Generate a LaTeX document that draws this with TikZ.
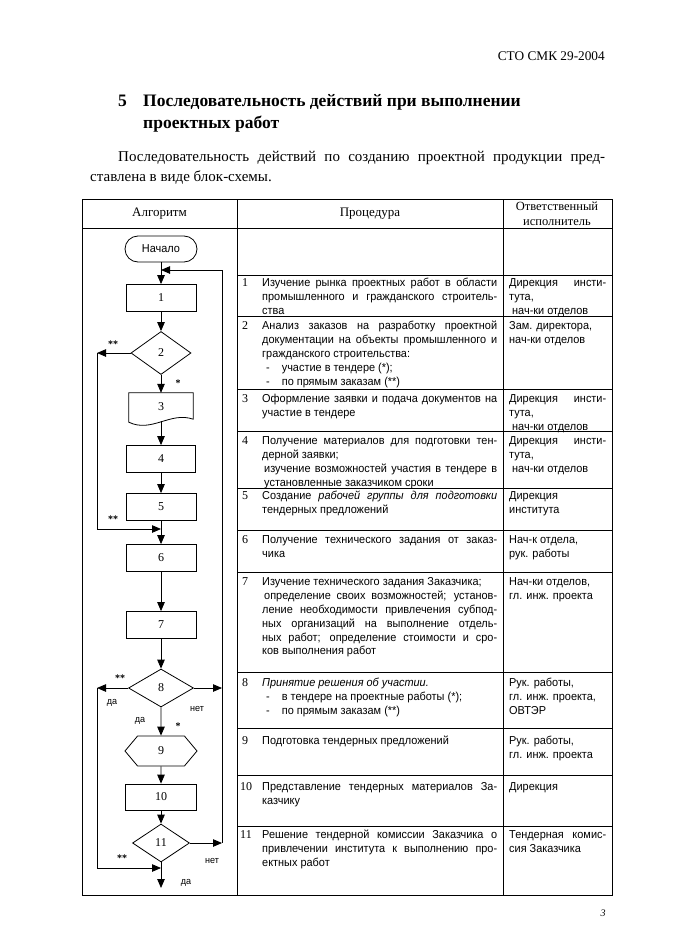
\documentclass[tikz,border=0pt]{standalone}
\usepackage{fontspec}
\setmainfont{Liberation Serif}
\newfontfamily\narrowsf[FakeStretch=0.95]{Liberation Sans}
\usetikzlibrary{arrows.meta,shapes.geometric,shapes.symbols}

\newcommand\celltext{\fontsize{11.5}{13.8}\selectfont\narrowsf}
\newcommand\cellnum{\fontsize{12}{13.8}\selectfont}

\begin{document}
\begin{tikzpicture}[x=1pt, y=-1pt,
    every node/.style={inner sep=0pt},
    grid/.style={line width=0.7pt},
    flow/.style={line width=0.8pt},
    arr/.style={flow, -{Triangle[length=9pt,width=7.5pt]}},
    box/.style={draw, flow, rectangle, minimum width=70pt, minimum height=27pt, font=\fontsize{12}{14}\selectfont},
    decide/.style={draw, flow, diamond, font=\fontsize{12}{14}\selectfont},
    starmark/.style={font=\fontsize{10}{10}\selectfont\bfseries},
    answer/.style={font=\fontsize{9.5}{10}\selectfont\narrowsf},
    num/.style={anchor=north west, font=\cellnum},
    proc/.style={anchor=north west, text width=235pt, align=justify, font=\celltext},
    resp/.style={anchor=north west, text width=97pt, align=justify, font=\celltext}
  ]
    \def\cx{161}
    \def\lx{97}
    \def\rx{222}

    \path[use as bounding box, fill=white] (0,0) rectangle (700,952);

    % Page heading
    \node[anchor=base east, font=\fontsize{13.3}{15}\selectfont] (code) at (605,60.5) {СТО СМК 29-2004};
    \node[anchor=north west, font=\fontsize{17.5}{22}\selectfont\bfseries] (secnum) at (118,90.6) {\strut 5};
    \node[anchor=north west, align=left, font=\fontsize{17.5}{22}\selectfont\bfseries] (title) at (143,90.6)
      {\strut Последовательность действий при выполнении\\ проектных работ};
    \node[anchor=north west, text width=515pt, align=justify, font=\fontsize{15}{20.5}\selectfont] (intro) at (90,146.6)
      {\strut\hspace*{28pt}Последовательность действий по созданию проектной продукции пред-\linebreak ставлена в виде блок-схемы.};

    % Table frame
    \draw[grid] (82,199) rectangle (612,895);
    \draw[grid] (237,199) -- (237,895);
    \draw[grid] (503,199) -- (503,895);
    \draw[grid] (82,228) -- (612,228);
    \foreach \y in {275,316,389,431,488,530,572,672,728,775,826}
      \draw[grid] (237,\y) -- (612,\y);

    % Table head
    \node[font=\fontsize{13}{15}\selectfont] (hAlg) at (159.5,213.5) {Алгоритм};
    \node[font=\fontsize{13}{15}\selectfont] (hProc) at (370,213.5) {Процедура};
    \node[align=center, font=\fontsize{12.5}{15.5}\selectfont] (hResp) at (557,214) {Ответственный\\исполнитель};

    % --- Flow chart ---
    \node[draw, flow, rectangle, rounded corners=13pt, minimum width=72pt, minimum height=26pt,
      font=\fontsize{11.5}{13}\selectfont\narrowsf] (start) at (\cx,249) {Начало};
    \node[box] (b1) at (\cx,298) {1};
    \node[decide, minimum width=60pt, minimum height=43pt] (d2) at (\cx,353) {2};
    \node[rectangle, minimum width=64pt, minimum height=28pt, font=\fontsize{12}{14}\selectfont] (doc3) at (\cx,407) {3};
    \draw[flow] (doc3.north west) -- (doc3.north east) -- ([yshift=2pt]doc3.south east)
      .. controls +(-23,-8) and +(23,11) .. ([yshift=-1pt]doc3.south west) -- cycle;
    \node[box, minimum width=69pt] (b4) at (\cx,459) {4};
    \node[box] (b5) at (\cx,507) {5};
    \node[box] (b6) at (\cx,558) {6};
    \node[box] (b7) at (\cx,625) {7};
    \node[decide, minimum width=65pt, minimum height=38pt] (d8) at (\cx,688) {8};
    \node[draw, flow, signal, signal to=west and east, signal pointer angle=100,
      minimum width=72pt, minimum height=30pt, font=\fontsize{12}{14}\selectfont] (hex9) at (\cx,751) {9};
    \node[box, minimum width=71pt, minimum height=26pt] (b10) at (\cx,797) {10};
    \node[decide, minimum width=57pt, minimum height=38pt] (d11) at (\cx,843) {11};

    \coordinate (lx) at (\lx,0);
    \coordinate (rx) at (\rx,0);
    \coordinate (j01) at (\cx,270);
    \coordinate (j56) at (\cx,529);
    \coordinate (j11) at (\cx,868);
    \coordinate (fin) at (\cx,888);

    % Main line
    \draw[arr] (start) -- (b1);
    \draw[arr] (b1) -- (d2);
    \draw[arr] (d2) -- (doc3);
    \draw[arr] (doc3) -- (b4);
    \draw[arr] (b4) -- (b5);
    \draw[arr] (b5) -- (b6);
    \draw[arr] (b6) -- (b7);
    \draw[arr] (b7) -- (d8);
    \draw[arr] (d8) -- (hex9);
    \draw[arr] (hex9) -- (b10);
    \draw[arr] (b10) -- (d11);
    \draw[arr] (d11) -- (fin);

    % Bypass lines
    \draw[arr] (d2.west) -- (d2.west -| lx);
    \draw[arr] (d2.west -| lx) |- (j56);
    \draw[arr] (d8.west) -- (d8.west -| lx);
    \draw[arr] (d8.west -| lx) |- (j11);
    \draw[arr] (d8.east) -- (d8.east -| rx);
    \draw[arr] (d11.east) -- (d11.east -| rx);
    \draw[arr] (d11.east -| rx) |- (j01);

    % Branch labels
    \node[starmark] (m2l) at (113,344) {**};
    \node[starmark] (m2b) at (178,383) {*};
    \node[starmark] (m5) at (113,519) {**};
    \node[starmark] (m8l) at (120,678) {**};
    \node[answer] (a8l) at (112,703) {да};
    \node[answer] (a8r) at (197,709) {нет};
    \node[answer] (a8b) at (140,721) {да};
    \node[starmark] (m8b) at (178,726) {*};
    \node[starmark] (m11) at (122,858) {**};
    \node[answer] (a11r) at (212,861) {нет};
    \node[answer] (a11b) at (186,883) {да};

    % --- Rows ---
    \node[num] (n1) at (242,277) {\strut 1};
    \node[proc] (p1) at (262,277) {\strut Изучение рынка проектных работ в области\linebreak промышленного и гражданского строитель-\linebreak ства};
    \node[resp] (r1) at (509,277) {\strut Дирекция инсти-\linebreak тута,\\ \hspace*{3pt}нач-ки отделов};

    \node[num] (n2) at (242,320) {\strut 2};
    \node[proc] (p2) at (262,320) {\strut Анализ заказов на разработку проектной\linebreak документации на объекты промышленного и\linebreak гражданского строительства:\\ \hspace*{4pt}-\hspace{12pt}участие в тендере (*);\\ \hspace*{4pt}-\hspace{12pt}по прямым заказам (**)};
    \node[resp] (r2) at (509,320) {\strut Зам. директора,\\ нач-ки отделов};

    \node[num] (n3) at (242,393) {\strut 3};
    \node[proc] (p3) at (262,393) {\strut Оформление заявки и подача документов на\linebreak участие в тендере};
    \node[resp] (r3) at (509,393) {\strut Дирекция инсти-\linebreak тута,\\ \hspace*{3pt}нач-ки отделов};

    \node[num] (n4) at (242,435) {\strut 4};
    \node[proc] (p4) at (262,435) {\strut Получение материалов для подготовки тен-\linebreak дерной заявки;\\ \hspace*{2pt}изучение возможностей участия в тендере в\linebreak \hspace*{2pt}установленные заказчиком сроки};
    \node[resp] (r4) at (509,435) {\strut Дирекция инсти-\linebreak тута,\\ \hspace*{3pt}нач-ки отделов};

    \node[num] (n5) at (242,490) {\strut 5};
    \node[proc] (p5) at (262,490) {\strut Создание \textit{рабочей группы для подготовки}\linebreak тендерных предложений};
    \node[resp] (r5) at (509,490) {\strut Дирекция\\ института};

    \node[num] (n6) at (242,534) {\strut 6};
    \node[proc] (p6) at (262,534) {\strut Получение технического задания от заказ-\linebreak чика};
    \node[resp] (r6) at (509,534) {\strut Нач-к отдела,\\ рук. работы};

    \node[num] (n7) at (242,576) {\strut 7};
    \node[proc] (p7) at (262,576) {\strut Изучение технического задания Заказчика;\\ \hspace*{2pt}определение своих возможностей; установ-\linebreak ление необходимости привлечения субпод-\linebreak ных организаций на выполнение отдель-\linebreak ных работ; определение стоимости и сро-\linebreak ков выполнения работ};
    \node[resp] (r7) at (509,576) {\strut Нач-ки отделов,\\ гл. инж. проекта};

    \node[num] (n8) at (242,677) {\strut 8};
    \node[proc] (p8) at (262,677) {\strut\textit{Принятие решения об участии.}\\ \hspace*{4pt}-\hspace{12pt}в тендере на проектные работы (*);\\ \hspace*{4pt}-\hspace{12pt}по прямым заказам (**)};
    \node[resp] (r8) at (509,677) {\strut Рук. работы,\\ гл. инж. проекта,\\ ОВТЭР};

    \node[num] (n9) at (242,735) {\strut 9};
    \node[proc] (p9) at (262,735) {\strut Подготовка тендерных предложений};
    \node[resp] (r9) at (509,735) {\strut Рук. работы,\\ гл. инж. проекта};

    \node[num] (n10) at (240,781) {\strut 10};
    \node[proc] (p10) at (262,781) {\strut Представление тендерных материалов За-\linebreak казчику};
    \node[resp] (r10) at (509,781) {\strut Дирекция};

    \node[num] (n11) at (240,829) {\strut 11};
    \node[proc] (p11) at (262,829) {\strut Решение тендерной комиссии Заказчика о\linebreak привлечении института к выполнению про-\linebreak ектных работ};
    \node[resp] (r11) at (509,829) {\strut Тендерная комис-\linebreak сия Заказчика};

    % Page number
    \node[anchor=base, font=\fontsize{10}{12}\selectfont\itshape] (page) at (603,916) {3};
  \end{tikzpicture}
\end{document}
